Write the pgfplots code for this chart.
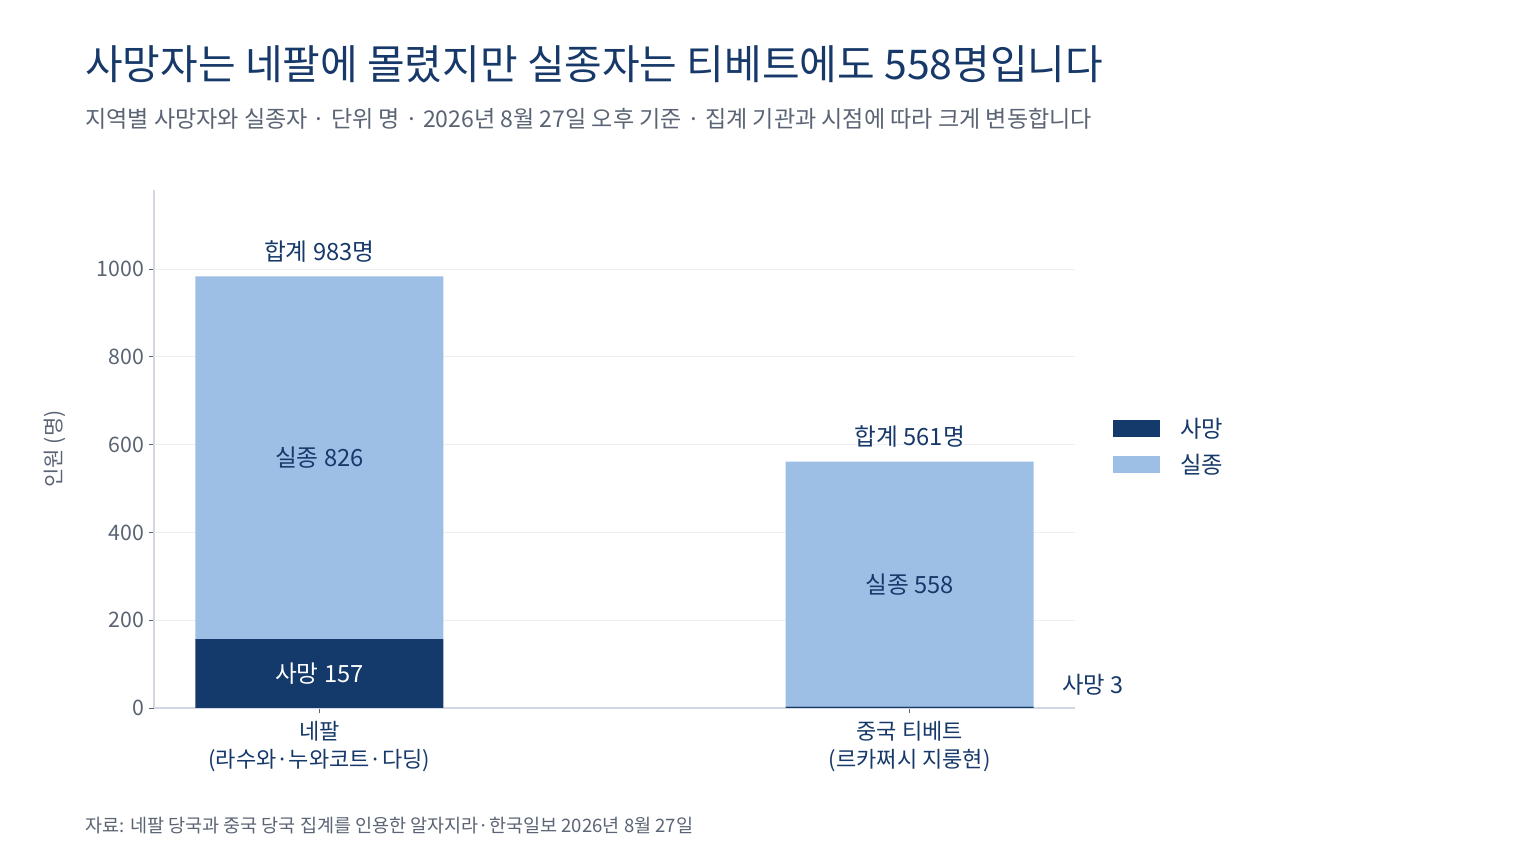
\documentclass[border=0pt]{standalone}
\usepackage{fontspec}
\setmainfont{Noto Sans CJK KR}
\usepackage{pgfplots}
\pgfplotsset{compat=1.18}
\definecolor{navy}{HTML}{133A6B}
\definecolor{lightbar}{HTML}{9DBFE6}
\definecolor{titlec}{HTML}{17396A}
\definecolor{subc}{HTML}{5B6474}
\definecolor{axisc}{HTML}{D3D7E3}
\definecolor{gridc}{HTML}{EDEFF4}
\begin{document}
\begin{tikzpicture}
\path[use as bounding box, fill=white] (0,0) rectangle (1152pt,648pt);
\node[anchor=base west, inner sep=0, font=\fontsize{30.7}{36}\selectfont, text=titlec] at (63.75pt,588pt) {사망자는 네팔에 몰렸지만 실종자는 티베트에도 558명입니다};
\node[anchor=base west, inner sep=0, font=\fontsize{17.3}{20}\selectfont, text=subc] at (63.75pt,552pt) {지역별 사망자와 실종자 · 단위 명 · 2026년 8월 27일 오후 기준 · 집계 기관과 시점에 따라 크게 변동합니다};
\node[anchor=base west, inner sep=0, font=\fontsize{13.9}{16}\selectfont, text=subc] at (63.75pt,23.25pt) {자료: 네팔 당국과 중국 당국 집계를 인용한 알자지라·한국일보 2026년 8월 27일};
\begin{axis}[
  at={(115.5pt,117pt)}, anchor=south west,
  scale only axis, width=690.75pt, height=388.5pt,
  xmin=-0.28, xmax=1.28, ymin=0, ymax=1180,
  ybar stacked, bar width=186pt,
  clip=false,
  axis lines*=left,
  axis line style={draw=axisc, line width=0.8pt},
  xtick={0,1},
  xticklabels={{네팔\\(라수와·누와코트·다딩)},{중국 티베트\\(르카쩌시 지룽현)}},
  ytick={0,200,400,600,800,1000},
  ymajorgrids, grid style={draw=gridc, line width=0.6pt},
  tick align=outside, major tick length=4pt,
  tick style={draw=subc, line width=0.5pt},
  /pgf/number format/assume math mode=true,
  /pgf/number format/1000 sep={},
  yticklabel style={font=\fontsize{16}{19}\selectfont, text=subc},
  xticklabel style={font=\fontsize{16.5}{21}\selectfont, text=titlec, align=center, yshift=-2.5pt},
  ylabel={인원 (명)},
  ylabel style={at={(axis description cs:-0.1075,0.5)}, anchor=center, font=\fontsize{15.8}{19}\selectfont, text=subc},
  legend style={draw=none, fill=none, at={(1.037,0.505)}, anchor=west,
    font=\fontsize{17.5}{21}\selectfont, text=titlec,
    row sep=7pt},
  legend cell align=left,
  legend image code/.code={\fill[#1] (0pt,-6.5pt) rectangle (35pt,6.5pt); \path (48pt,0pt);},
]
\addplot[fill=navy, draw=none] coordinates {(0,157) (1,3)};
\addlegendentry{사망}
\addplot[fill=lightbar, draw=none] coordinates {(0,826) (1,558)};
\addlegendentry{실종}
\coordinate (t0) at (axis cs:0,983);
\coordinate (t1) at (axis cs:1,561);
\coordinate (m0) at (axis cs:0,570);
\coordinate (d0) at (axis cs:0,78.5);
\coordinate (m1) at (axis cs:1,282);
\coordinate (d1) at (axis cs:1.258,52);
\end{axis}
\node[anchor=base, font=\fontsize{17.8}{21}\selectfont, text=titlec, yshift=12pt] at (t0) {합계 983명};
\node[anchor=base, font=\fontsize{17.8}{21}\selectfont, text=titlec, yshift=12pt] at (t1) {합계 561명};
\node[font=\fontsize{17.8}{21}\selectfont, text=titlec] at (m0) {실종 826};
\node[font=\fontsize{17.8}{21}\selectfont, text=white] at (d0) {사망 157};
\node[font=\fontsize{17.8}{21}\selectfont, text=titlec] at (m1) {실종 558};
\node[anchor=west, inner sep=0, font=\fontsize{17.5}{21}\selectfont, text=titlec] at (d1) {사망 3};
\end{tikzpicture}
\end{document}
